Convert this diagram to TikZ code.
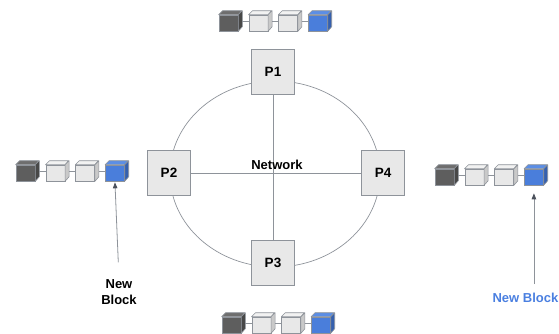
\documentclass[tikz,border=0pt]{standalone}
\usepackage{fontspec}
\setmainfont{Liberation Sans}
\usepackage{xcolor}
\usetikzlibrary{arrows.meta,positioning}

%% colours of the cubes
\definecolor{darkfront}{HTML}{5E5E5E}
\definecolor{darktop}{HTML}{6E6E6E}
\definecolor{darkside}{HTML}{484848}
\definecolor{lightfront}{HTML}{E8E8E8}
\definecolor{lighttop}{HTML}{F2F2F2}
\definecolor{lightside}{HTML}{C9C9C9}
\definecolor{bluefront}{HTML}{4A7EDB}
\definecolor{bluetop}{HTML}{5B8EE6}
\definecolor{blueside}{HTML}{3560AE}
\definecolor{edgegray}{HTML}{8E939A}
\definecolor{tipgray}{HTML}{4B515C}
\definecolor{newblue}{HTML}{4A7FE0}

%% one chain of four blocks: name, left x, top y (pixel units)
\newcommand{\blockchain}[3]{%
  \foreach \i/\clr in {1/dark,2/light,3/light,4/blue} {
    \node[cube, fill=\clr front] (#1-\i) at ({#2+(\i-1)*29.8+9.5},{#3+12}) {};
    \draw[cube face, fill=\clr top]
      (#1-\i.north west) -- ++(4,-4) -- ++(19,0) -- (#1-\i.north east) -- cycle;
    \draw[cube face, fill=\clr side]
      (#1-\i.north east) -- ++(4,-4) -- ++(0,16) -- (#1-\i.south east) -- cycle;
  }
  \foreach \i [evaluate=\i as \j using int(\i+1)] in {1,2,3}
    \draw[link] ([xshift=4pt,yshift=2pt]#1-\i.east) -- ([yshift=2pt]#1-\j.west);
}

\begin{document}
\begin{tikzpicture}[
  x=1pt, y=-1pt,
  %% style definitions
  peer/.style      = {draw=edgegray, fill=lightfront, line width=0.7pt,
                      minimum width=43pt, minimum height=45pt, inner sep=0pt,
                      font=\fontsize{13.5}{15}\selectfont\bfseries},
  cube/.style      = {draw=edgegray, line width=0.6pt, rectangle,
                      minimum width=19pt, minimum height=16pt, inner sep=0pt},
  cube face/.style = {draw=edgegray, line width=0.6pt, line join=round},
  link/.style      = {draw=edgegray, line width=0.7pt},
  wire/.style      = {draw=edgegray, line width=0.7pt},
  arr/.style       = {-{Triangle[length=6pt,width=4.5pt,color=tipgray]},
                      draw=edgegray, line width=0.8pt},
  lbl/.style       = {font=\fontsize{13}{16}\selectfont\bfseries, align=center,
                      inner sep=0pt},
]
\useasboundingbox (0,0) rectangle (559,333);

%% ── Network ring ────────────────────────────────────────────────────────────
\draw[wire] (275,174) ellipse [x radius=105pt, y radius=93pt];

\node[peer] (p1) at (273,72)  {P1};
\node[peer] (p2) at (169,173) {P2};
\node[peer] (p3) at (273,263) {P3};
\node[peer] (p4) at (383,173) {P4};

\draw[wire] (p1) -- (p3);
\draw[wire] (p2.east) -- (p2.east -| p4.west);
\node[lbl] (net) at (277,165) {Network};

%% ── Copies of the chain ─────────────────────────────────────────────────────
\blockchain{top}{219}{11}
\blockchain{left}{16}{161}
\blockchain{right}{435}{165}
\blockchain{bottom}{222}{313}

%% ── New block labels ────────────────────────────────────────────────────────
\node[lbl] (newl) at (119,292) {New\\Block};
\node[lbl, text=newblue, anchor=east] (newr) at (558.5,298) {New Block};

\draw[arr, shorten <=17pt, shorten >=1pt] (newl.north) -- (left-4.south);
\draw[arr, shorten <=9pt, shorten >=8pt]
  (newr.north -| right-4.south) -- (right-4.south);

\end{tikzpicture}
\end{document}
